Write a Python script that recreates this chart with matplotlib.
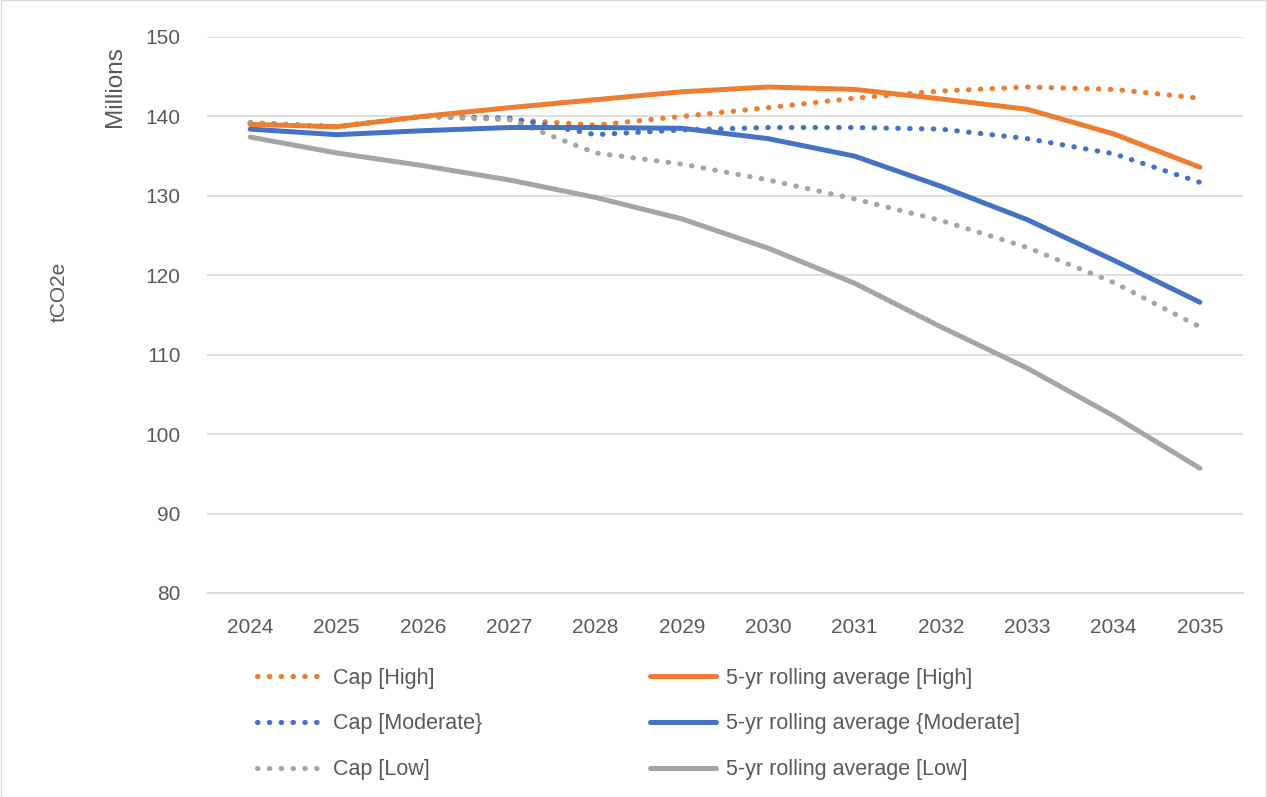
"""
Emissions cap vs 5-yr rolling average chart
"""

import matplotlib.pyplot as plt
from matplotlib.patches import Rectangle

years = [2024, 2025, 2026, 2027, 2028, 2029, 2030, 2031, 2032, 2033, 2034, 2035]

# Values in millions tCO2e.
cap_high = [139.2, 138.7, 140.0, 139.6, 138.9, 140.0, 141.1, 142.3, 143.2, 143.7, 143.4, 142.3]
cap_moderate = [139.2, 138.7, 140.0, 139.8, 137.7, 138.3, 138.6, 138.6, 138.4, 137.2, 135.3, 131.7]
cap_low = [139.2, 138.7, 140.0, 139.6, 135.4, 134.0, 132.0, 129.6, 126.9, 123.5, 119.1, 113.5]
avg_high = [139.0, 138.7, 140.0, 141.1, 142.1, 143.1, 143.7, 143.4, 142.2, 140.9, 137.8, 133.6]
avg_moderate = [138.4, 137.7, 138.2, 138.6, 138.6, 138.5, 137.2, 135.0, 131.2, 127.0, 121.9, 116.6]
avg_low = [137.4, 135.4, 133.8, 132.0, 129.8, 127.1, 123.4, 119.0, 113.5, 108.3, 102.3, 95.7]

labels_cap = ['Cap [High]', 'Cap [Moderate}', 'Cap [Low]']
labels_avg = ['5-yr rolling average [High]', '5-yr rolling average {Moderate]',
              '5-yr rolling average [Low]']

ORANGE = '#ED7D31'
BLUE = '#4472C4'
GRAY = '#A5A5A5'
TEXT = '#595959'
GRID = '#D9D9D9'

plt.rcParams['font.family'] = ['Liberation Sans', 'DejaVu Sans']

fig = plt.figure(figsize=(12.67, 7.97), dpi=100)
ax = fig.add_axes([0.1634, 0.2560, 0.8177, 0.6976])

# Dotted cap lines.
dot = (0, (0.1, 2.2))
cap_lines = []
for vals, col, lab in zip([cap_high, cap_moderate, cap_low], [ORANGE, BLUE, GRAY], labels_cap):
    ln, = ax.plot(years, vals, color=col, lw=3.7, linestyle=dot,
                  dash_capstyle='round', label=lab)
    cap_lines.append(ln)

# Solid rolling averages.
avg_lines = []
for vals, col, lab in zip([avg_high, avg_moderate, avg_low], [ORANGE, BLUE, GRAY], labels_avg):
    ln, = ax.plot(years, vals, color=col, lw=3.6, solid_capstyle='round', label=lab)
    avg_lines.append(ln)

ax.set_xlim(2023.5, 2035.5)
ax.set_ylim(80, 150)
ax.set_xticks(years)
ax.set_yticks(range(80, 151, 10))
ax.grid(axis='y', color=GRID, lw=1.2)
ax.set_axisbelow(True)
for s in ['top', 'right', 'left']:
    ax.spines[s].set_visible(False)
ax.spines['bottom'].set_color(GRID)
ax.spines['bottom'].set_linewidth(1.2)
ax.tick_params(length=0, labelsize=15, colors=TEXT)
ax.tick_params(axis='y', pad=19)
ax.tick_params(axis='x', pad=18)

fig.text(0.047, 0.634, 'tCO2e', rotation=90, ha='center', va='center',
         fontsize=15, color=TEXT)
fig.text(0.091, 0.891, 'Millions', rotation=90, ha='center', va='center',
         fontsize=17.5, color=TEXT)

# Two legend columns placed separately.
leg_kw = dict(frameon=False, fontsize=15.5, handlelength=3.07, handletextpad=0.47,
              labelspacing=1.14, borderpad=0, labelcolor=TEXT)
fig.legend(handles=cap_lines, loc='center left', bbox_to_anchor=(0.1942, 0.0916), **leg_kw)
fig.legend(handles=avg_lines, loc='center left', bbox_to_anchor=(0.5043, 0.0916), **leg_kw)

# Light border round the chart area.
fig.patches.append(Rectangle((0.0005, 0.0005), 0.999, 0.999, transform=fig.transFigure,
                             fill=False, edgecolor=GRID, lw=1))

fig.savefig('out.png', dpi=100)
